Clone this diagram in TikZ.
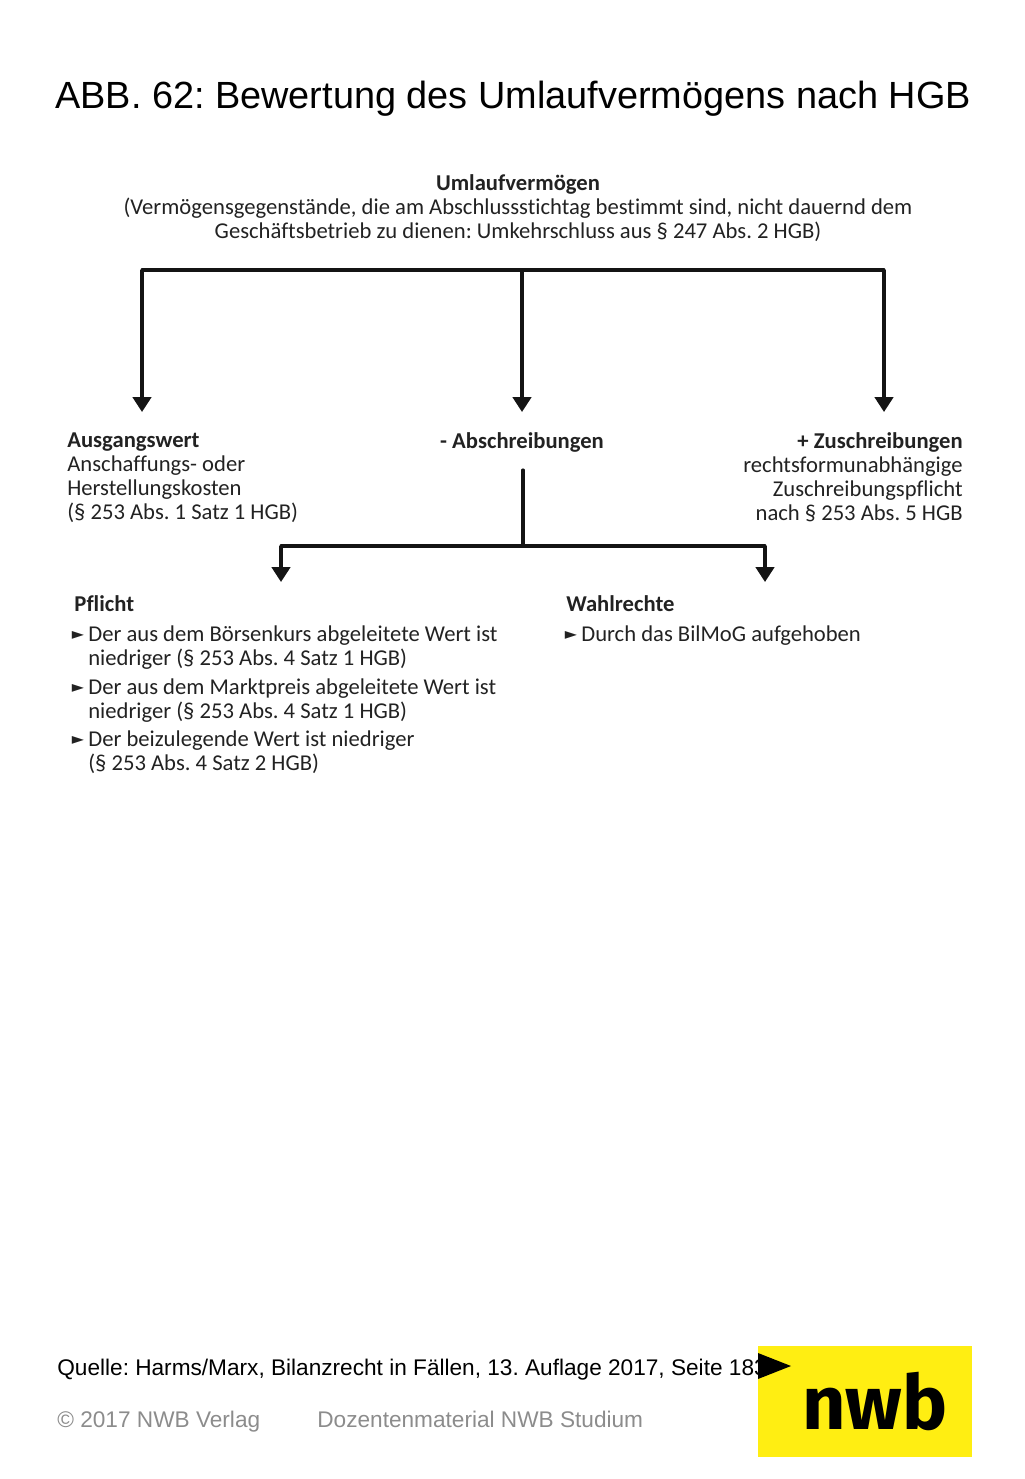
\documentclass[tikz,border=0pt]{standalone}
\usepackage{fontspec}
\setmainfont[Ligatures=NoCommon]{Carlito}
\newfontfamily\headfont{Liberation Sans}
\newfontfamily\logofont{Fira Sans}
\newfontfamily\symfont{DejaVu Sans}
\usetikzlibrary{arrows.meta}
\definecolor{nwbyellow}{HTML}{FFEE12}
\definecolor{inkgrey}{HTML}{222222}
\definecolor{footgrey}{HTML}{8C8C8C}
\newcommand{\bul}{\llap{{\symfont\fontsize{9}{9}\selectfont\raisebox{0.7pt}{►}}\hspace{2.5pt}}}
\frenchspacing
\tikzset{
	headline/.style={inner sep=0, anchor=base west, font=\headfont\fontsize{21.55}{26}\selectfont},
	sourceline/.style={inner sep=0, anchor=base west, font=\headfont\fontsize{12.88}{15}\selectfont},
	footline/.style={sourceline, text=footgrey},
	bodytext/.style={inner sep=0, text=inkgrey, font=\fontsize{12.88}{13.66}\selectfont},
	bar/.style={line width=1.8pt, color=black!92, line cap=round},
	pointer/.style={bar, -{Triangle[width=10.5pt, length=8.5pt]}, line cap=butt},
}
\begin{document}
\begin{tikzpicture}[x=0.02cm, y=-0.02cm]
		%%%%% START %%%%%
		\useasboundingbox (0, 0) rectangle (1024, 1479);
		
		\node[headline] (title) at (55, 109) {ABB. 62: Bewertung des Umlaufvermögens nach HGB};
		
		\node[bodytext, align=center, anchor=north] (umlauf) at (518, 174) {\textbf{Umlaufvermögen}\\(Vermögensgegenstände, die am Abschlussstichtag bestimmt sind, nicht dauernd dem\\Geschäftsbetrieb zu dienen: Umkehrschluss aus § 247 Abs. 2 HGB)};
		
		\node[bodytext, align=left, anchor=north west] (ausgang) at (67, 432) {\textbf{Ausgangswert}\\Anschaffungs- oder\\Herstellungskosten\\(§ 253 Abs. 1 Satz 1 HGB)};
		\node[bodytext, anchor=north] (abschr) at (522, 432) {\textbf{- Abschreibungen}};
		\node[bodytext, align=right, anchor=north east] (zuschr) at (963, 432) {\textbf{+ Zuschreibungen}\\rechtsformunabhängige\\Zuschreibungspflicht\\nach § 253 Abs. 5 HGB};
		
		\coordinate (topmid) at (522, 270);
		\coordinate (topleft) at (142, 270);
		\coordinate (topright) at (884, 270);
		\coordinate (tipleft) at (142, 412);
		\coordinate (tipmid) at (522, 412);
		\coordinate (tipright) at (884, 412);
		\draw[bar] (topleft) -- (topright);
		\draw[pointer] (topleft) -- (tipleft);
		\draw[pointer] (topmid) -- (tipmid);
		\draw[pointer] (topright) -- (tipright);
		
		\coordinate (stem) at (523, 470);
		\coordinate (forkmid) at (523, 546);
		\coordinate (forkleft) at (281, 546);
		\coordinate (forkright) at (765, 546);
		\coordinate (tippflicht) at (281, 582);
		\coordinate (tipwahl) at (765, 582);
		\draw[bar] (stem) -- (forkmid);
		\draw[bar] (forkleft) -- (forkright);
		\draw[pointer] (forkleft) -- (tippflicht);
		\draw[pointer] (forkright) -- (tipwahl);
		
		\node[bodytext, anchor=north west] (pflicht) at (74, 595) {\textbf{Pflicht}};
		\node[bodytext, align=left, anchor=north west] (pflichtA) at (88, 625) {\bul Der aus dem Börsenkurs abgeleitete Wert ist\\niedriger (§ 253 Abs. 4 Satz 1 HGB)};
		\node[bodytext, align=left, anchor=north west] (pflichtB) at (88, 678) {\bul Der aus dem Marktpreis abgeleitete Wert ist\\niedriger (§ 253 Abs. 4 Satz 1 HGB)};
		\node[bodytext, align=left, anchor=north west] (pflichtC) at (88, 730) {\bul Der beizulegende Wert ist niedriger\\(§ 253 Abs. 4 Satz 2 HGB)};
		
		\node[bodytext, anchor=north west] (wahl) at (566, 595) {\textbf{Wahlrechte}};
		\node[bodytext, anchor=north west] (wahlA) at (581, 625) {\bul Durch das BilMoG aufgehoben};
		
		\node[sourceline] (quelle) at (57, 1375) {Quelle: Harms/Marx, Bilanzrecht in Fällen, 13. Auflage 2017, Seite 183};
		\node[footline] (copy) at (57, 1427) {© 2017 NWB Verlag};
		\node[footline] (dozent) at (317, 1427) {Dozentenmaterial NWB Studium};
		
		\fill[nwbyellow] (758, 1346) rectangle (972, 1457);
		\fill[black] (758, 1353) -- (791, 1366) -- (758, 1379) -- cycle;
		\node[inner sep=0, anchor=base, font=\logofont\bfseries\fontsize{43}{43}\selectfont] (logo) at (875, 1429) {nwb};
		
		%%%%% END %%%%%
	\end{tikzpicture}
\end{document}
